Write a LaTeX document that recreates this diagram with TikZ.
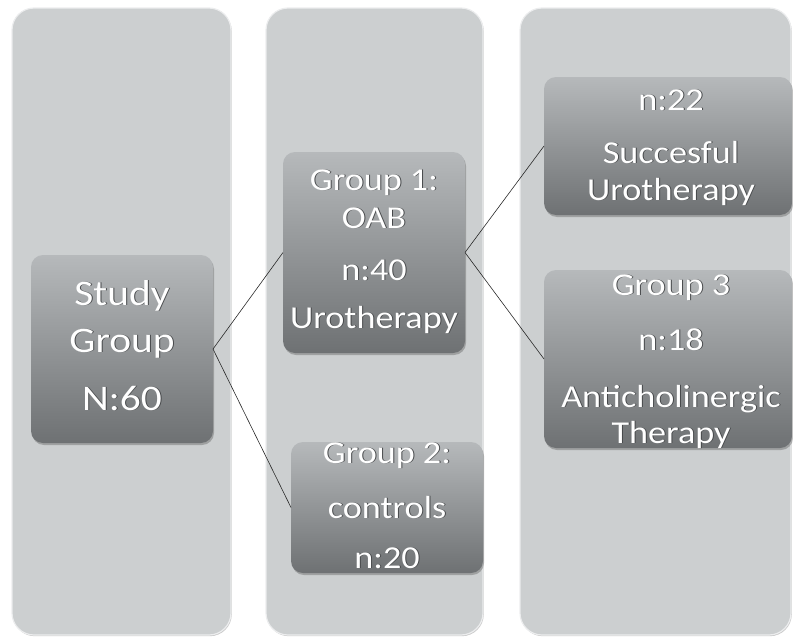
\documentclass[tikz,border=0pt]{standalone}
\usepackage{fontspec}
\setmainfont{Carlito}
\usetikzlibrary{shadows}
\definecolor{panelfill}{RGB}{204,207,208}
\definecolor{paneledge}{RGB}{236,237,238}
\definecolor{boxtop}{RGB}{182,185,187}
\definecolor{boxbot}{RGB}{110,113,115}
\definecolor{txtshadow}{RGB}{70,72,74}
\definecolor{linecol}{RGB}{40,40,40}
\newcommand\shd[1]{\leavevmode\rlap{\kern0.9pt\raisebox{-0.9pt}{\textcolor{txtshadow}{#1}}}#1}
\newcommand\sx[1]{\scalebox{1.15}[1]{\shd{#1}}}
\newcommand\sy[1]{\scalebox{1.13}[1]{\shd{#1}}}
\tikzset{
  panel/.style={rectangle, rounded corners=22pt, fill=panelfill, draw=paneledge, line width=1.2pt,
    inner sep=0pt, outer sep=0pt,
    drop shadow={shadow xshift=0.8pt, shadow yshift=-1.2pt, opacity=0.35, fill=black!60}},
  stagebox/.style={rectangle, rounded corners=12pt, top color=boxtop, bottom color=boxbot,
    draw=none, inner sep=0pt, outer sep=0pt,
    drop shadow={shadow xshift=1pt, shadow yshift=-2pt, opacity=0.35, fill=black!70}},
  biglbl/.style={text=white, anchor=base, inner sep=0pt, font=\fontsize{36}{40}\selectfont},
  lbl/.style={text=white, anchor=base, inner sep=0pt, font=\fontsize{32}{36}\selectfont},
  link/.style={draw=linecol, line width=0.6pt}
}
\begin{document}
\begin{tikzpicture}[x=1pt,y=-1pt]
\useasboundingbox (0,0) rectangle (793,637);
% panels
\node[panel, minimum width=219pt, minimum height=627pt] (c1) at (121.5,321.5) {};
\node[panel, minimum width=217pt, minimum height=627pt] (c2) at (374.5,321.5) {};
\node[panel, minimum width=271pt, minimum height=627pt] (c3) at (655.5,321.5) {};
% boxes
\node[stagebox, minimum width=182pt, minimum height=188pt] (sg) at (122,349) {};
\node[stagebox, minimum width=182pt, minimum height=201pt] (g1) at (374,252.5) {};
\node[stagebox, minimum width=192pt, minimum height=131pt] (g2) at (387,507.5) {};
\node[stagebox, minimum width=248pt, minimum height=138pt] (s22) at (668,146) {};
\node[stagebox, minimum width=248pt, minimum height=178pt] (g3) at (668,359) {};
% connectors
\draw[link] (sg.east) -- (g1.west);
\draw[link] (sg.east) -- (g2.west);
\draw[link] (g1.east) -- (s22.west);
\draw[link] (g1.east) -- (g3.west);
% texts
\node[biglbl] (tsg1) at (122,305) {\sx{Study}};
\node[biglbl] (tsg2) at (122,352) {\sx{Group}};
\node[biglbl] (tsg3) at (122,410) {\sx{N:60}};
\node[lbl] (tg11) at (374,190) {\sy{Group 1:}};
\node[lbl] (tg12) at (374,228) {\sy{OAB}};
\node[lbl] (tg13) at (374,280) {\sy{n:40}};
\node[lbl] (tg14) at (374,328) {\sy{Urotherapy}};
\node[lbl] (tg21) at (387,463) {\sy{Group 2:}};
\node[lbl] (tg22) at (387,518) {\sy{controls}};
\node[lbl] (tg23) at (387,568) {\sy{n:20}};
\node[lbl] (ts1) at (671,110) {\sy{n:22}};
\node[lbl] (ts2) at (671,163) {\sy{Succesful}};
\node[lbl] (ts3) at (671,200) {\sy{Urotherapy}};
\node[lbl] (tg31) at (671,295) {\sy{Group 3}};
\node[lbl] (tg32) at (671,350) {\sy{n:18}};
\node[lbl] (tg33) at (671,407) {\sy{Anticholinergic}};
\node[lbl] (tg34) at (671,443) {\sy{Therapy}};
\end{tikzpicture}
\end{document}
